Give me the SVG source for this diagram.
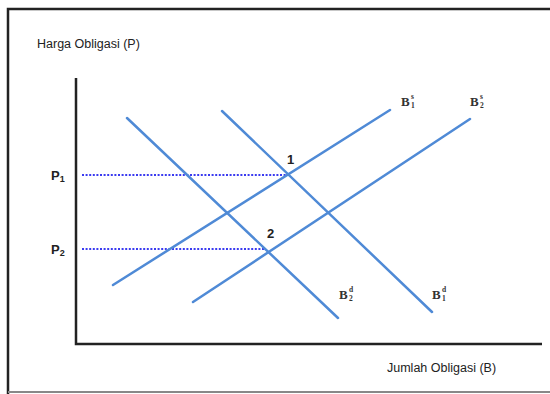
<svg xmlns="http://www.w3.org/2000/svg" width="550" height="394" viewBox="0 0 550 394">
<style>
.curve{stroke:#4F8AD6;stroke-width:2.5;fill:none;stroke-linecap:round}
.dot{stroke:#3B3BF0;stroke-width:2;stroke-dasharray:2 1.6;fill:none}
.axis{stroke:#222;stroke-width:2.5;fill:none}
.lbl{font-family:"Liberation Sans",Arial,sans-serif;font-size:12.5px;fill:#222}
.bl{font-family:"Liberation Serif","Times New Roman",serif;font-weight:bold;fill:#333;font-size:13px}
.ss{font-family:"Liberation Serif","Times New Roman",serif;font-weight:bold;fill:#333;font-size:7.5px}
.num{font-family:"Liberation Sans",Arial,sans-serif;font-weight:bold;font-size:13px;fill:#222}
</style>
<rect width="550" height="394" fill="#fff"/>
<g id="frame">
<path d="M8,394 V9 H550" stroke="#222" stroke-width="2.5" fill="none"/>
<path d="M8,392 H550" stroke="#888" stroke-width="2" fill="none"/>
</g>
<g id="axes">
<path class="axis" d="M76,78 V344 H542"/>
<text class="lbl" x="37" y="48">Harga Obligasi (P)</text>
<text class="lbl" x="387" y="372">Jumlah Obligasi (B)</text>
</g>
<g id="connectors">
<line class="dot" x1="82" y1="175" x2="289" y2="175"/>
<line class="dot" x1="82" y1="249" x2="264" y2="249"/>
</g>
<g id="B2d"><line class="curve" x1="127" y1="118" x2="338" y2="318"/>
<text class="bl" x="339" y="299">B</text><text class="ss" x="349" y="292">d</text><text class="ss" x="349" y="301">2</text></g>
<g id="B1d"><line class="curve" x1="222" y1="111" x2="432" y2="312"/>
<text class="bl" x="432" y="299">B</text><text class="ss" x="442" y="292">d</text><text class="ss" x="442" y="301">1</text></g>
<g id="B1s"><line class="curve" x1="113" y1="285" x2="390" y2="110"/>
<text class="bl" x="401" y="106">B</text><text class="ss" x="411" y="99">s</text><text class="ss" x="411" y="108">1</text></g>
<g id="B2s"><line class="curve" x1="193" y1="302" x2="470" y2="119"/>
<text class="bl" x="470" y="106">B</text><text class="ss" x="480" y="99">s</text><text class="ss" x="480" y="108">2</text></g>
<g id="P1"><text class="num" x="51" y="180">P<tspan font-size="9" dy="2">1</tspan></text></g>
<g id="P2"><text class="num" x="51" y="254">P<tspan font-size="9" dy="2">2</tspan></text></g>
<g id="pt1"><text class="num" x="287" y="164">1</text></g>
<g id="pt2"><text class="num" x="267" y="238">2</text></g>
</svg>
